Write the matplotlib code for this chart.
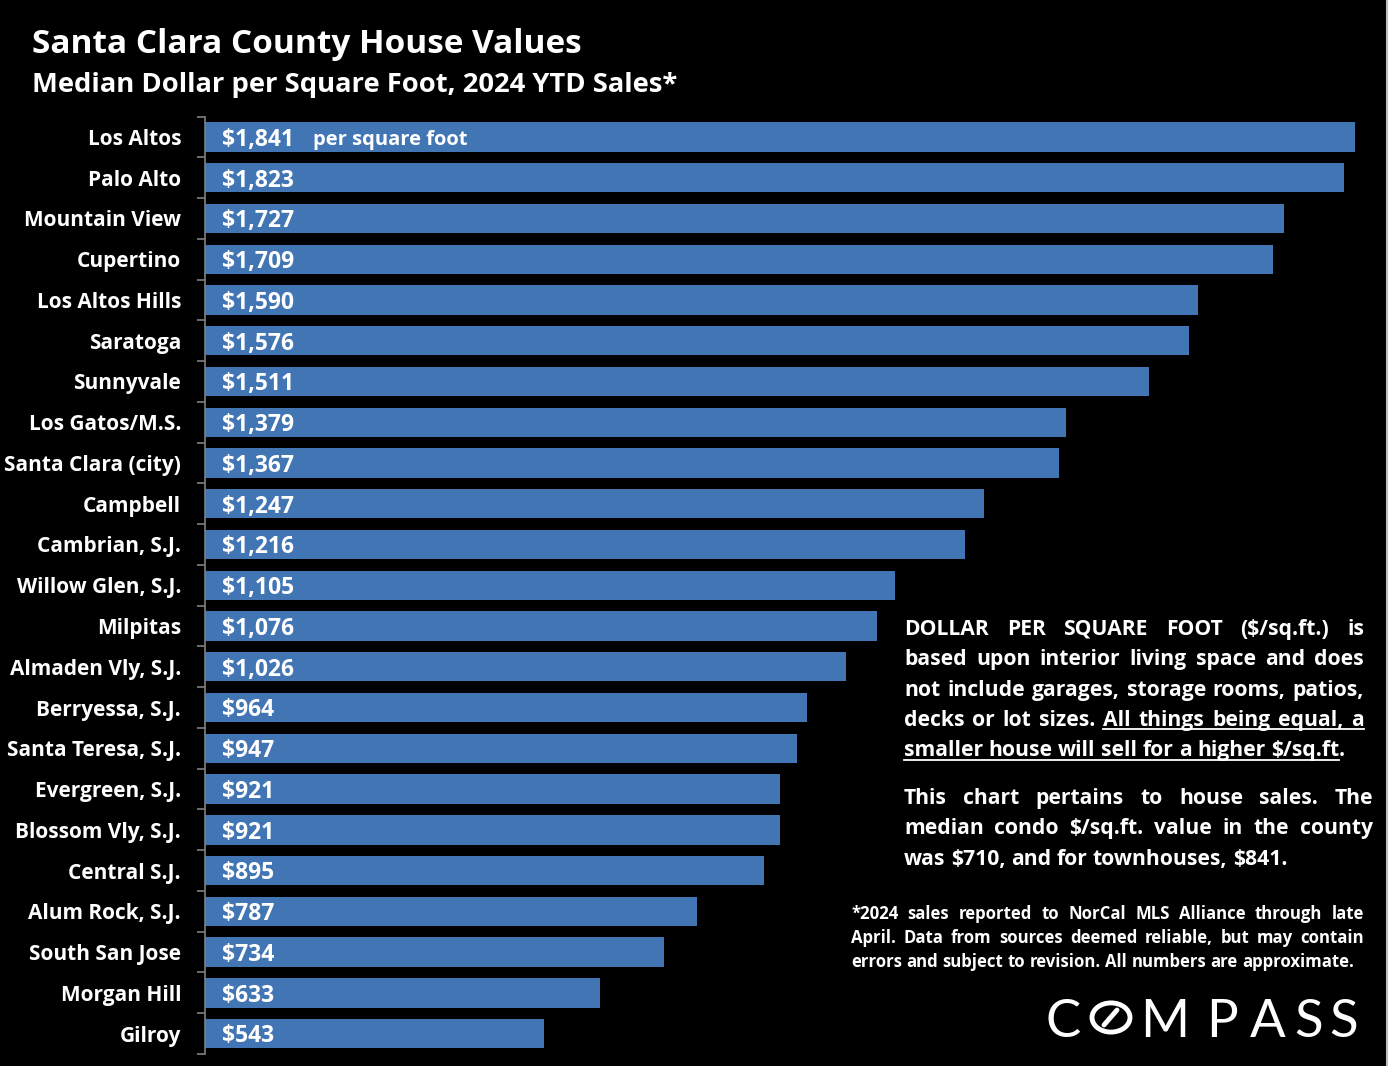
import matplotlib
matplotlib.use('Agg')
import matplotlib.pyplot as plt
from matplotlib.patches import Circle
from matplotlib.lines import Line2D

areas = ['Los Altos', 'Palo Alto', 'Mountain View', 'Cupertino', 'Los Altos Hills',
         'Saratoga', 'Sunnyvale', 'Los Gatos/M.S.', 'Santa Clara (city)', 'Campbell',
         'Cambrian, S.J.', 'Willow Glen, S.J.', 'Milpitas', 'Almaden Vly, S.J.',
         'Berryessa, S.J.', 'Santa Teresa, S.J.', 'Evergreen, S.J.', 'Blossom Vly, S.J.',
         'Central S.J.', 'Alum Rock, S.J.', 'South San Jose', 'Morgan Hill', 'Gilroy']
values = [1841, 1823, 1727, 1709, 1590, 1576, 1511, 1379, 1367, 1247, 1216, 1105,
          1076, 1026, 964, 947, 921, 921, 895, 787, 734, 633, 543]

title = 'Santa Clara County House Values'
subtitle = 'Median Dollar per Square Foot, 2024 YTD Sales*'
para1 = ['DOLLAR PER SQUARE FOOT ($/sq.ft.) is',
         'based upon interior living space and does',
         'not include garages, storage rooms, patios,',
         'decks or lot sizes. All things being equal, a',
         'smaller house will sell for a higher $/sq.ft .']
para2 = ['This chart pertains to house sales. The',
         'median condo $/sq.ft. value in the county',
         'was $710, and for townhouses, $841.']
note = ['*2024 sales reported to NorCal MLS Alliance through late',
        'April. Data from sources deemed reliable, but may contain',
        'errors and subject to revision. All numbers are approximate.']

W, H = 1388, 1066
BLUE = '#4275B3'
FONT = 'Open Sans'

fig = plt.figure(figsize=(W / 100, H / 100), dpi=100, facecolor='black')


def fx(x):
    return x / W


def fy(y):
    return 1 - y / H


ax = fig.add_axes([fx(205), fy(1054), fx(1355) - fx(205), fy(116.6) - fy(1054)])
ax.set_facecolor('black')
n = len(areas)
ypos = list(range(n))
ax.barh(ypos, values, height=0.72, color=BLUE, zorder=2)
ax.set_xlim(0, max(values))
ax.set_ylim(n - 0.5, -0.5)
ax.set_xticks([])
ax.set_yticks([i - 0.5 for i in range(n + 1)])
ax.set_yticklabels([])
ax.tick_params(axis='y', length=6, color='#808080', width=1.2)
for s in ['top', 'right', 'bottom']:
    ax.spines[s].set_visible(False)
ax.spines['left'].set_color('#808080')
ax.spines['left'].set_linewidth(1.2)

for i, (a, v) in enumerate(zip(areas, values)):
    ax.text(-24 / 0.6247, i + 0.06, a, ha='right', va='center', color='white',
            fontsize=15, fontweight='bold', family=FONT)
    ax.text(17 / 0.6247, i + 0.07, '${:,}'.format(v), ha='left', va='center',
            color='white', fontsize=16.5, fontweight='bold', family=FONT)
ax.text(108 / 0.6247, 0.07, 'per square foot', ha='left', va='center', color='white',
        fontsize=14.5, fontweight='bold', family=FONT)

fig.text(fx(32), fy(53), title, color='white', fontsize=24, fontweight='bold',
         family=FONT, va='baseline')
fig.text(fx(32), fy(92), subtitle, color='white', fontsize=19.7, fontweight='bold',
         family=FONT, va='baseline')

renderer = fig.canvas.get_renderer()


def justified(lines, x0, x1, y0, dy, size, weight='bold', underline_from=None):
    sp = None
    for li, line in enumerate(lines):
        words = line.split(' ')
        texts = [fig.text(0, fy(y0 + li * dy), w, color='white', fontsize=size,
                          fontweight=weight, family=FONT, va='baseline') for w in words]
        widths = [t.get_window_extent(renderer).width for t in texts]
        if sp is None:
            t = fig.text(0, 0, 'a a', fontsize=size, fontweight=weight, family=FONT)
            t2 = fig.text(0, 0, 'aa', fontsize=size, fontweight=weight, family=FONT)
            sp = t.get_window_extent(renderer).width - t2.get_window_extent(renderer).width
            t.remove()
            t2.remove()
        last = li == len(lines) - 1
        if last:
            gaps = [sp] * (len(words) - 1)
            if words[-1] == '.':
                gaps[-1] = 0
        else:
            g = (x1 - x0 - sum(widths)) / (len(words) - 1)
            gaps = [g] * (len(words) - 1)
        x = x0
        xs = []
        for k, t in enumerate(texts):
            t.set_x(fx(x))
            xs.append(x)
            x += widths[k] + (gaps[k] if k < len(gaps) else 0)
        if underline_from is not None and li in underline_from:
            k0 = underline_from[li]
            k1 = len(words) - 1
            if words[-1] == '.':
                k1 -= 1
            ul_y = fy(y0 + li * dy + 3.5)
            fig.add_artist(Line2D([fx(xs[k0]), fx(xs[k1] + widths[k1])], [ul_y, ul_y],
                                  color='white', lw=1.3))


justified(para1, 904, 1364, 635, 30.3, 15.2, underline_from={3: 4, 4: 0})
justified(para2, 904, 1373, 804, 30.3, 15.2)
justified(note, 851, 1364, 919, 24, 12.1)

# COMPASS logo
logo = [('C', 1063), ('M', 1164.5), ('P', 1222), ('A', 1267.5), ('S', 1309), ('S', 1344)]
for ch, x in logo:
    fig.text(fx(x), fy(1037), ch, color='white', fontsize=38, fontweight='normal',
             family='Lato', va='baseline', ha='center')
fig.add_artist(Circle((fx(1111), fy(1017.5)), radius=19 / W, transform=fig.transFigure,
                      fill=False, ec='white', lw=3.5))
fig.add_artist(Line2D([fx(1104), fx(1117)], [fy(1025), fy(1010)], color='white', lw=3.5,
                      solid_capstyle='round'))

fig.add_artist(Line2D([fx(1386.5), fx(1386.5)], [0, 1], color='#BFBFBF', lw=1.5))

fig.savefig('out.png', dpi=100, facecolor='black')
